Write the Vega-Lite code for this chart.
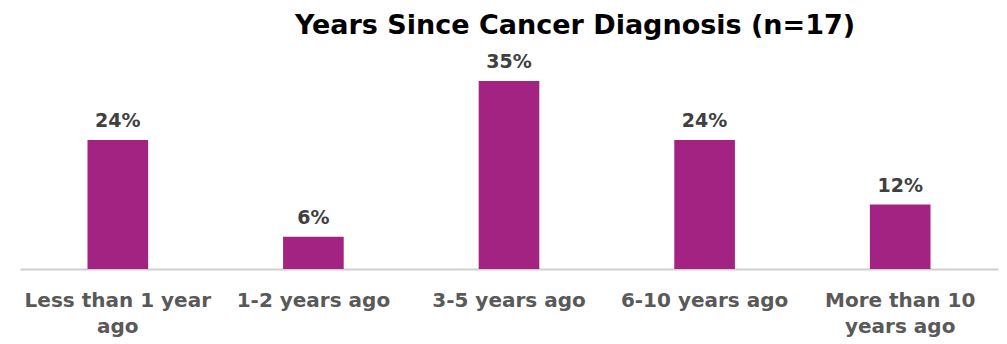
{
  "$schema": "https://vega.github.io/schema/vega-lite/v6.json",
  "autosize": {"type": "none"},
  "width": 978,
  "height": 215,
  "padding": {"left": 20, "top": 54, "right": 9, "bottom": 75},
  "background": "white",
  "title": {
    "text": "Years Since Cancer Diagnosis (n=17)",
    "anchor": "middle",
    "dx": 66,
    "offset": 13,
    "font": "DejaVu Sans",
    "fontSize": 27,
    "fontWeight": "bold",
    "color": "#000000"
  },
  "data": {
    "values": [
      {"category": "Less than 1 year ago", "pct": 0.24},
      {"category": "1-2 years ago", "pct": 0.06},
      {"category": "3-5 years ago", "pct": 0.35},
      {"category": "6-10 years ago", "pct": 0.24},
      {"category": "More than 10 years ago", "pct": 0.12}
    ]
  },
  "encoding": {
    "x": {
      "field": "category",
      "type": "nominal",
      "sort": null,
      "scale": {"paddingInner": 0.69, "paddingOuter": 0.345},
      "axis": {
        "title": null,
        "labelAngle": 0,
        "ticks": false,
        "domainColor": "#d0d0d0",
        "domainWidth": 2,
        "labelFont": "DejaVu Sans",
        "labelFontSize": 20,
        "labelFontWeight": "bold",
        "labelColor": "#595959",
        "labelPadding": 21,
        "labelLineHeight": 26,
        "labelLimit": 400,
        "labelExpr": "datum.label == 'Less than 1 year ago' ? ['Less than 1 year', 'ago'] : datum.label == 'More than 10 years ago' ? ['More than 10', 'years ago'] : datum.label"
      }
    },
    "y": {
      "field": "pct",
      "type": "quantitative",
      "scale": {"domain": [0, 0.4]},
      "axis": null
    }
  },
  "layer": [
    {"mark": {"type": "bar", "color": "#A32383"}},
    {
      "mark": {
        "type": "text",
        "baseline": "bottom",
        "dy": -9,
        "font": "DejaVu Sans",
        "fontSize": 19,
        "fontWeight": "bold",
        "color": "#404040"
      },
      "encoding": {
        "text": {"field": "pct", "type": "quantitative", "format": ".0%"}
      }
    }
  ],
  "config": {"view": {"stroke": null}}
}
